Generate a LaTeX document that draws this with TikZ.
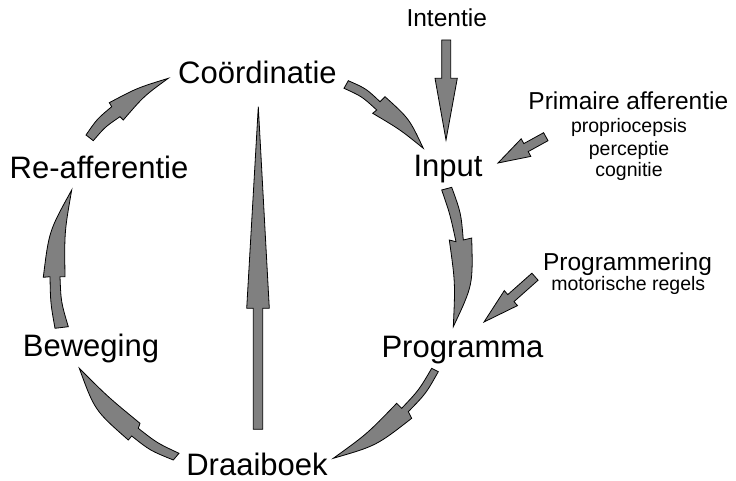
\documentclass[tikz,border=0pt]{standalone}
\usepackage{fontspec}
\setmainfont{Liberation Sans}
\definecolor{arrgray}{RGB}{128,128,128}
\begin{document}
\begin{tikzpicture}[x=1pt,y=-1pt]
\tikzset{
 big/.style={font=\fontsize{31}{36}\selectfont, anchor=base, inner sep=0pt},
 mid/.style={font=\fontsize{24.5}{28}\selectfont, anchor=base, inner sep=0pt},
 small/.style={font=\fontsize{19.5}{22}\selectfont, anchor=base, inner sep=0pt},
 arr/.style={fill=arrgray, draw=black, line width=0.8pt, line join=miter},
}
\useasboundingbox (0,0) rectangle (736,481);
% labels
\node[big] (coord) at (257.5,83.3) {Coördinatie};
\node[big] (reaff) at (99,178.3) {Re-afferentie};
\node[big] (input) at (448,176.7) {Input};
\node[big] (progr) at (462.5,357) {Programma};
\node[big] (bew) at (91,356.7) {Beweging};
\node[big] (draai) at (257,475) {Draaiboek};
\node[mid] (int) at (446.7,26.7) {Intentie};
\node[mid] (prim) at (628.3,110) {Primaire afferentie};
\node[small] (prop) at (629,133) {propriocepsis};
\node[small] (perc) at (629,155.5) {perceptie};
\node[small] (cogn) at (629,177) {cognitie};
\node[mid] (pgm) at (627.5,270) {Programmering};
\node[small] (motor) at (628.3,290) {motorische regels};
% Beweging -> Re-afferentie
\draw[arr] (55,328.3) .. controls (50.5,303) .. (50,276.7) -- (43.3,277.3)
  .. controls (49,231) .. (71.7,190) .. controls (64.4,232) .. (65,276.7)
  -- (60,276.7) .. controls (61,302) .. (68.3,326.7) -- cycle;
% Re-afferentie -> Coordinatie
\draw[arr] (86,135) .. controls (97,119) .. (111.7,106.7) -- (109.3,102.7)
  .. controls (137,88) .. (168.3,78.3) .. controls (144,96) .. (123.3,120)
  -- (120,116.7) .. controls (105,127) .. (93.3,140.7) -- cycle;
% Coordinatie -> Input
\draw[arr] (348.3,80.7) .. controls (366,88.5) .. (380,101.7) -- (385,96.7)
  .. controls (409.3,118.7) .. (423.3,148.3) .. controls (400,129.5) .. (372.7,113.3)
  -- (376.7,110) .. controls (362,96.5) .. (344,88.3) -- cycle;
% Input -> Programma
\draw[arr] (441.7,190) .. controls (450,214) .. (456,241.7) -- (449.3,240)
  .. controls (455.3,283) .. (453.3,326.7) .. controls (473,285) .. (471.7,238)
  -- (463.3,240) .. controls (461,213) .. (451.7,187.3) -- cycle;
% Programma -> Draaiboek
\draw[arr] (431.7,368.3) .. controls (419,390) .. (401.7,408.3) -- (396.7,403.3)
  .. controls (367,434) .. (333.3,458.3) .. controls (376.3,445.8) .. (411.7,418.3)
  -- (408.3,411.7) .. controls (426,393.5) .. (438.3,371.7) -- cycle;
% Draaiboek -> Beweging
\draw[arr] (179,453.3) .. controls (157,443) .. (138.3,428.3) -- (140,423.3)
  .. controls (108,397) .. (79.3,368.3) .. controls (94.7,410.4) .. (128.3,440)
  -- (131.7,436) .. controls (150,450.5) .. (173.3,460) -- cycle;
% Intentie -> Input
\draw[arr] (441.7,40) -- (450.7,40) -- (450.7,78.3) -- (457.3,78.3) -- (446,140)
  -- (435,78.3) -- (441.7,78.3) -- cycle;
% Draaiboek -> Coordinatie (central)
\draw[arr] (253.3,429.3) -- (253.3,308.3) -- (246.7,308.3) -- (258.3,106.7)
  -- (269.3,308.3) -- (262.7,308.3) -- (262.7,429.3) -- cycle;
% Primaire afferentie -> Input
\draw[arr] (543.6,132.7) -- (523.8,143.6) -- (521.2,138.8) -- (498,163)
  -- (530.8,156.4) -- (528.2,151.6) -- (548,140.7) -- cycle;
% Programmering -> Programma
\draw[arr] (531.9,273.2) -- (507.8,294.6) -- (504.3,290.6) -- (484,322)
  -- (517.5,305.6) -- (514,301.6) -- (538.1,280.2) -- cycle;
\end{tikzpicture}
\end{document}
